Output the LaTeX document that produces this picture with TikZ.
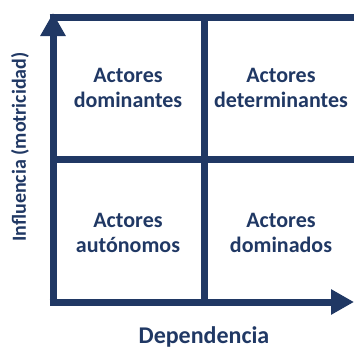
\documentclass[tikz,border=0pt]{standalone}
\usepackage{fontspec}
\setmainfont{Carlito}
\usetikzlibrary{arrows.meta}
\definecolor{navy}{HTML}{203864}
\begin{document}
\begin{tikzpicture}[x=1pt,y=-1pt,
  axis/.style={line width=7pt,draw=navy},
  arr/.style={axis,-{Triangle[length=23pt,width=24pt]}},
  lbl/.style={text=navy,font=\bfseries\fontsize{22}{25}\selectfont,align=center},
  axlbl/.style={text=navy,font=\bfseries\fontsize{24}{28}\selectfont},
  ylbl/.style={text=navy,font=\bfseries\fontsize{20}{24}\selectfont}]
\useasboundingbox (0,0) rectangle (354,348);
\coordinate (o) at (53,302);
\coordinate (ytip) at (53,13);
\coordinate (xtip) at (354,302);
\coordinate (tl) at (49.5,17);
\coordinate (tr) at (354,17);
\coordinate (ml) at (53,159.5);
\coordinate (mr) at (354,159.5);
\coordinate (vt) at (204.5,17);
\coordinate (vb) at (204.5,302);
\draw[axis] (tl) -- (tr);
\draw[axis] (ml) -- (mr);
\draw[axis] (vt) -- (vb);
\draw[arr] ([yshift=3.5pt]o) -- (ytip);
\draw[arr] ([xshift=-3.5pt]o) -- (xtip);
\node[lbl] (q1) at (128,88) {Actores\\dominantes};
\node[lbl] (q2) at (281,88) {Actores\\determinantes};
\node[lbl] (q3) at (128,233) {Actores\\autónomos};
\node[lbl] (q4) at (281,233) {Actores\\dominados};
\node[axlbl] (xl) at (204,337) {Dependencia};
\node[ylbl,rotate=90] (yl) at (20,147) {Influencia (motricidad)};
\end{tikzpicture}
\end{document}
